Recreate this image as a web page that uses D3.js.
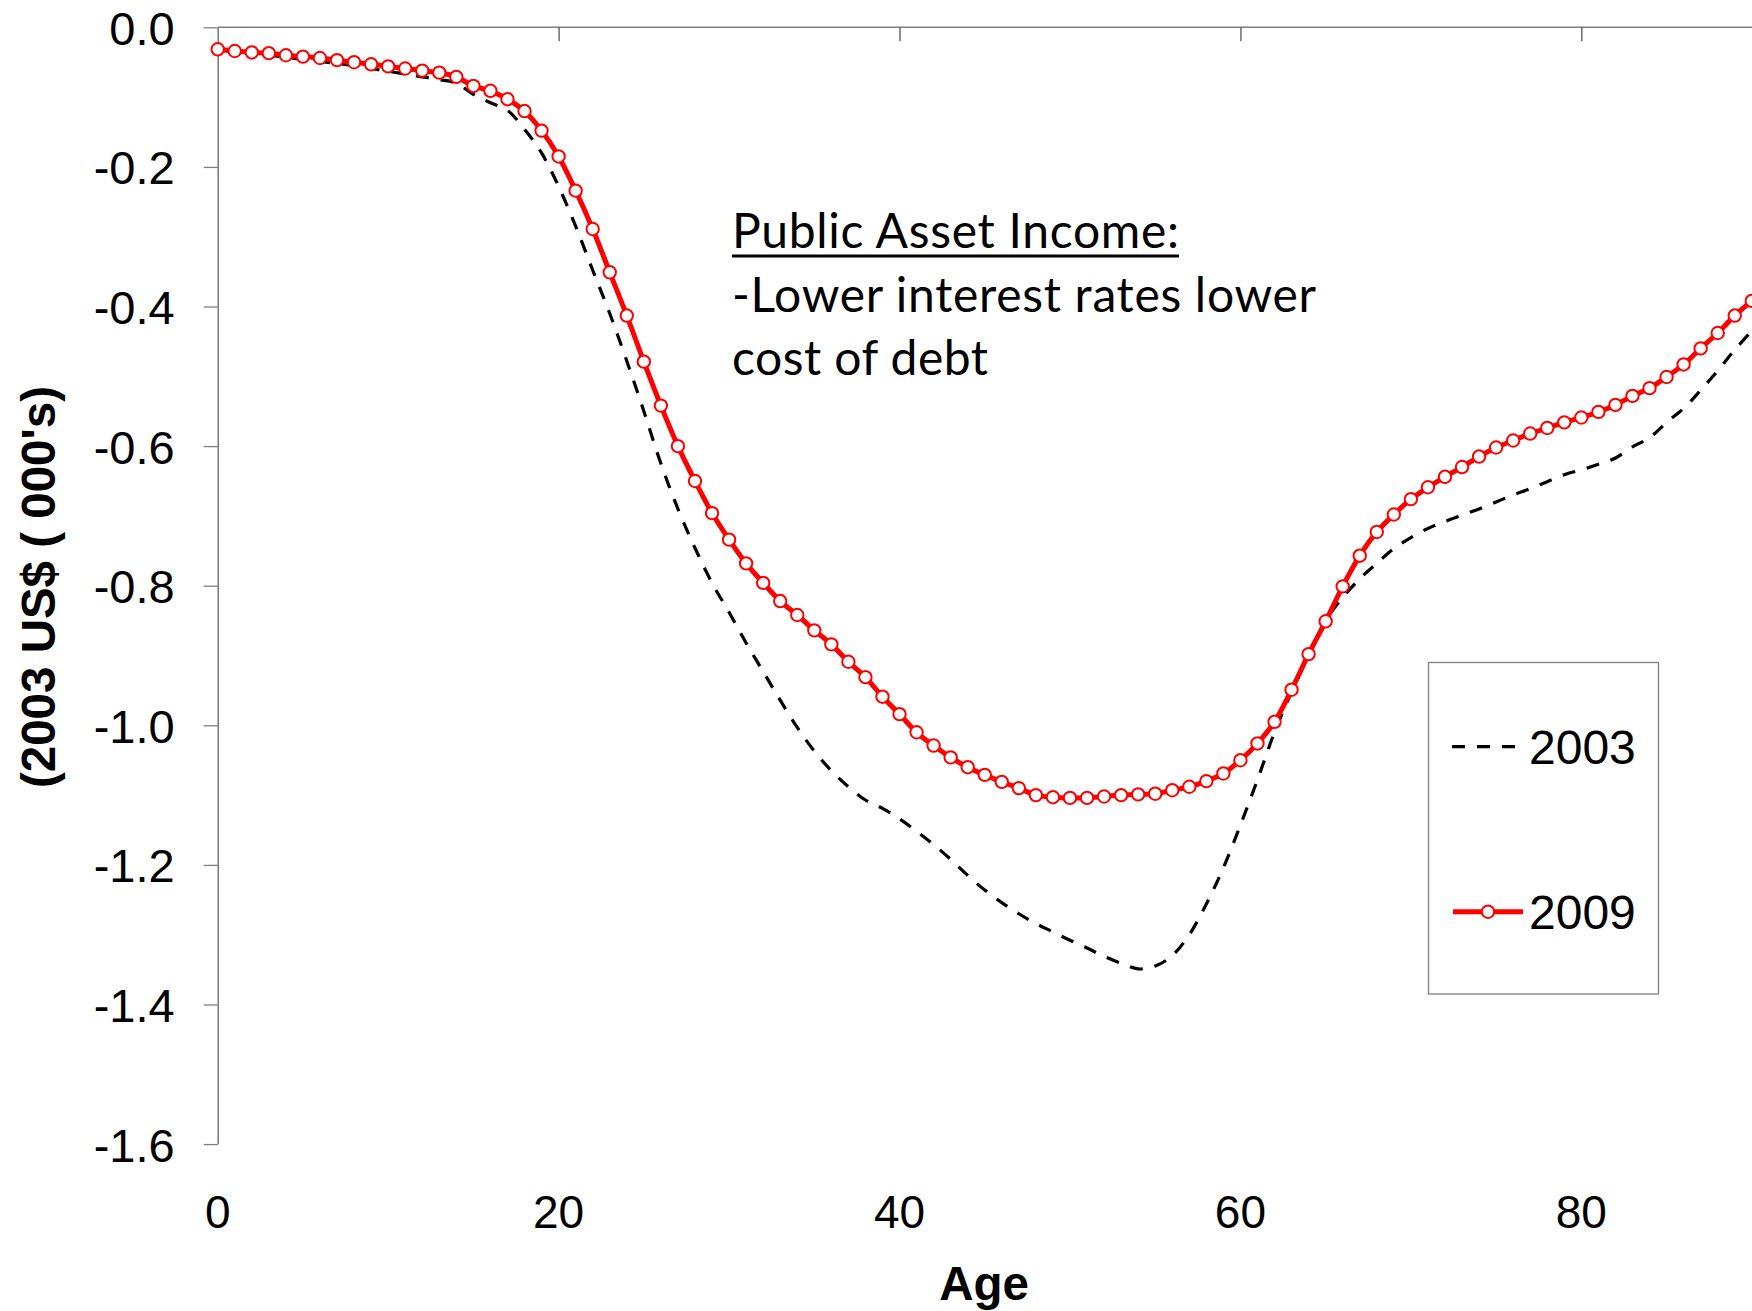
<!DOCTYPE html>
<html>
<head>
<meta charset="utf-8">
<script src="https://cdn.jsdelivr.net/npm/d3@7"></script>
<style>
  html, body { margin: 0; padding: 0; background: #fff; }
  svg { display: block; }
</style>
</head>
<body>
<svg id="chart" width="1752" height="1311"></svg>
<script>
// Age profile of public asset income, 2003 vs 2009 (thousands of 2003 US$)
const ages = d3.range(0, 91);

const series2003 = [
  -0.032, -0.035, -0.037, -0.040, -0.043, -0.046, -0.049, -0.052, -0.055, -0.059,
  -0.063, -0.067, -0.071, -0.075, -0.080, -0.096, -0.108, -0.119, -0.146, -0.180,
  -0.228, -0.285, -0.348, -0.410, -0.478, -0.550, -0.625, -0.690, -0.746, -0.796,
  -0.838, -0.882, -0.923, -0.964, -1.003, -1.037, -1.065, -1.088, -1.107, -1.119,
  -1.134, -1.152, -1.171, -1.192, -1.215, -1.236, -1.254, -1.270, -1.284, -1.296,
  -1.308, -1.319, -1.331, -1.341, -1.349, -1.345, -1.330, -1.300, -1.256, -1.204,
  -1.143, -1.078, -1.010, -0.952, -0.900, -0.850, -0.817, -0.790, -0.768, -0.747,
  -0.731, -0.718, -0.708, -0.699, -0.690, -0.680, -0.670, -0.661, -0.651, -0.641,
  -0.634, -0.626, -0.617, -0.601, -0.588, -0.566, -0.546, -0.520, -0.492, -0.462,
  -0.435
];

const series2009 = [
  -0.0315, -0.034, -0.036, -0.037, -0.040, -0.042, -0.044, -0.047, -0.050, -0.053,
  -0.056, -0.059, -0.062, -0.065, -0.071, -0.084, -0.091, -0.103, -0.120, -0.148,
  -0.185, -0.234, -0.289, -0.351, -0.413, -0.479, -0.542, -0.600, -0.650, -0.696,
  -0.734, -0.768, -0.796, -0.822, -0.842, -0.864, -0.884, -0.909, -0.931, -0.959,
  -0.984, -1.010, -1.029, -1.046, -1.060, -1.071, -1.081, -1.090, -1.100, -1.103,
  -1.104, -1.104, -1.102, -1.100, -1.099, -1.098, -1.093, -1.088, -1.080, -1.069,
  -1.050, -1.026, -0.995, -0.949, -0.898, -0.851, -0.801, -0.757, -0.723, -0.698,
  -0.676, -0.659, -0.644, -0.630, -0.615, -0.602, -0.592, -0.582, -0.574, -0.566,
  -0.559, -0.551, -0.541, -0.528, -0.517, -0.501, -0.483, -0.460, -0.438, -0.413,
  -0.392
];

const seriesNames = ["2003", "2009"];
const xTicks = [0, 20, 40, 60, 80];
const yTicks = [0, -0.2, -0.4, -0.6, -0.8, -1.0, -1.2, -1.4, -1.6];
const yTickLabels = ["0.0", "-0.2", "-0.4", "-0.6", "-0.8", "-1.0", "-1.2", "-1.4", "-1.6"];
const yTitle = "(2003 US$ ( 000's)";
const xTitle = "Age";
const noteLines = ["Public Asset Income:", "-Lower interest rates lower", "cost of debt"];

const svg = d3.select("#chart");
const axisFont = "'Liberation Sans', Arial, Helvetica, sans-serif";
const noteFont = "Lato, 'Open Sans', sans-serif";
const axisGrey = "#808080";
const red = "#ff0000";

const x = d3.scaleLinear().domain([0, 90]).range([217.7, 1751.8]);
const y = d3.scaleLinear().domain([0, -1.6]).range([27.3, 1144.1]);

// Top horizontal axis at zero with inward ticks
const topAxis = svg.append("g")
  .attr("transform", `translate(0,${y(0)})`)
  .call(d3.axisBottom(x).tickValues(xTicks.filter(d => d > 0)).tickSize(14).tickSizeOuter(0).tickFormat(""));
topAxis.select(".domain").attr("stroke", axisGrey).attr("stroke-width", 1.6)
  .attr("d", `M${x(0)},0H1752`);
topAxis.selectAll(".tick line").attr("stroke", "#555").attr("stroke-width", 1.3);

// Vertical axis
const yAxis = svg.append("g")
  .attr("transform", `translate(${x(0)},0)`)
  .call(d3.axisLeft(y).tickValues(yTicks).tickSize(14).tickSizeOuter(0).tickPadding(29)
    .tickFormat((d, i) => yTickLabels[i]));
yAxis.select(".domain").attr("stroke", axisGrey).attr("stroke-width", 1.6);
yAxis.selectAll(".tick line").attr("stroke", axisGrey).attr("stroke-width", 1.3);
yAxis.selectAll(".tick text")
  .attr("font-family", axisFont).attr("font-size", 47).attr("fill", "#000").attr("dy", "0.36em");

// Age labels sit low beneath the plot
svg.append("g").selectAll("text").data(xTicks).join("text")
  .attr("x", d => x(d)).attr("y", 1228)
  .attr("text-anchor", "middle")
  .attr("font-family", axisFont).attr("font-size", 46).attr("fill", "#000")
  .text(d => d);

// Axis titles
svg.append("text")
  .attr("transform", `translate(55,587) rotate(-90)`)
  .attr("text-anchor", "middle")
  .attr("font-family", axisFont).attr("font-size", 47.5).attr("font-weight", "bold")
  .text(yTitle);

svg.append("text")
  .attr("x", 984).attr("y", 1300)
  .attr("text-anchor", "middle")
  .attr("font-family", axisFont).attr("font-size", 47.5).attr("font-weight", "bold")
  .text(xTitle);

// Lines
const line = d3.line()
  .x((d, i) => x(ages[i]))
  .y(d => y(d))
  .curve(d3.curveCatmullRom.alpha(0.5));

svg.append("path")
  .datum(series2003)
  .attr("fill", "none").attr("stroke", "#000").attr("stroke-width", 3.2)
  .attr("stroke-dasharray", "13,12")
  .attr("d", line);

svg.append("path")
  .datum(series2009)
  .attr("fill", "none").attr("stroke", red).attr("stroke-width", 5)
  .attr("stroke-linejoin", "round")
  .attr("d", line);

svg.append("g").selectAll("circle").data(series2009).join("circle")
  .attr("cx", (d, i) => x(ages[i]))
  .attr("cy", d => y(d))
  .attr("r", 6.2)
  .attr("fill", "#fff").attr("stroke", red).attr("stroke-width", 2);

// Annotation
const note = svg.append("g").attr("font-family", noteFont).attr("font-size", 48).attr("fill", "#000");
const baselines = [248, 312, 375];
const lineWidths = [447, 584, 256];
noteLines.forEach((t, i) => {
  note.append("text").attr("x", 732).attr("y", baselines[i])
    .attr("textLength", lineWidths[i]).attr("lengthAdjust", "spacing")
    .text(t);
});
note.append("rect").attr("x", 732).attr("y", baselines[0] + 6.5)
  .attr("width", lineWidths[0]).attr("height", 3).attr("fill", "#000");

// Legend
const legend = svg.append("g");
legend.append("rect")
  .attr("x", 1428.5).attr("y", 662.5).attr("width", 230).attr("height", 331.5)
  .attr("fill", "#fff").attr("stroke", axisGrey).attr("stroke-width", 1.3);

const legendRows = [
  { name: seriesNames[0], cy: 746.7 },
  { name: seriesNames[1], cy: 911.7 }
];
legend.append("line")
  .attr("x1", 1452).attr("x2", 1522).attr("y1", legendRows[0].cy).attr("y2", legendRows[0].cy)
  .attr("stroke", "#000").attr("stroke-width", 3.2).attr("stroke-dasharray", "13,12");
legend.append("line")
  .attr("x1", 1453).attr("x2", 1523).attr("y1", legendRows[1].cy).attr("y2", legendRows[1].cy)
  .attr("stroke", red).attr("stroke-width", 5);
legend.append("circle")
  .attr("cx", 1488).attr("cy", legendRows[1].cy).attr("r", 6.2)
  .attr("fill", "#fff").attr("stroke", red).attr("stroke-width", 2);
legend.selectAll("text.lbl").data(legendRows).join("text")
  .attr("class", "lbl")
  .attr("x", 1529).attr("y", d => d.cy + 17)
  .attr("font-family", axisFont).attr("font-size", 48).attr("fill", "#000")
  .text(d => d.name);
</script>
</body>
</html>
